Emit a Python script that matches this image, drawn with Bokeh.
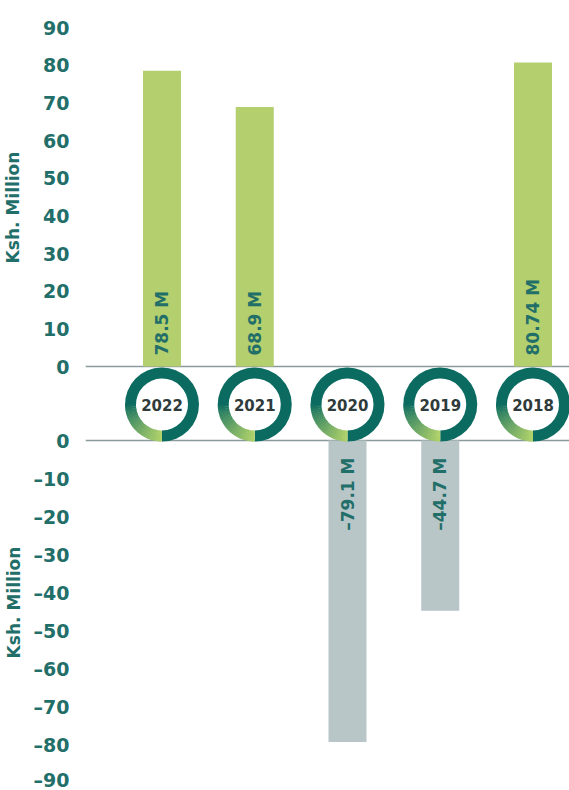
import math
from bokeh.plotting import figure
from bokeh.layouts import column, row
from bokeh.models import Range1d, Span, FixedTicker, ColumnDataSource, CustomJSTickFormatter
from bokeh.embed import file_html
from bokeh.resources import INLINE
from bokeh.core.properties import value

# ---- data ----
years = ["2022", "2021", "2020", "2019", "2018"]
values = [78.5, 68.9, -79.1, -44.7, 80.74]
value_labels = ["78.5 M", "68.9 M", "\u201379.1 M", "\u201344.7 M", "80.74 M"]
top_ticks = [0, 10, 20, 30, 40, 50, 60, 70, 80, 90]
bottom_ticks = [0, -10, -20, -30, -40, -50, -60, -70, -80, -90]
axis_title = "Ksh. Million"

# ---- style ----
FONT = "DejaVu Sans"
TEAL_TXT = "#226e69"
GREEN = "#b3cf6e"
GREY = "#b8c6c8"
RING = "#0b6b61"
RING_LIGHT = "#b2d36a"
LINE = "#8a9a9a"
YEAR_TXT = "#2f3b3b"

W = 569
H = 790
LEFT = 85
AX_FRAME = 6
TOP_H = 414
BOT_H = H - TOP_H

# geometry (page pixels)
unit = 92.75
x_start = -(161.5 - LEFT) / unit
x_end = (len(years) - 1) + (W - 532.5) / unit

s1 = (366 - 27) / 90.0          # px per unit, top panel
s2 = (783 - 440) / 90.0         # px per unit, bottom panel

main_end = 90 + 27 / s1
main_start = -(H - 366) / s1
neg_end = 440 / s2
neg_start = -90 - (H - 783) / s2
ring_y = -(404 - 366) / s1

ta_end = main_end
ta_start = -(TOP_H - 366) / s1
ba_end = (440 - TOP_H) / s2
ba_start = neg_start

xs = list(range(len(years)))
pos = dict(x=[xs[i] for i, v in enumerate(values) if v > 0],
           v=[v for v in values if v > 0],
           lbl=[value_labels[i] for i, v in enumerate(values) if v > 0])
neg = dict(x=[xs[i] for i, v in enumerate(values) if v < 0],
           v=[v for v in values if v < 0],
           lbl=[value_labels[i] for i, v in enumerate(values) if v < 0])


def axis_fig(h, y0, y1, ticks, bounds, label_standoff, neg_fmt=False):
    p = figure(width=LEFT, height=h, x_range=Range1d(0, 1),
               y_range=Range1d(y0, y1), output_backend="svg",
               toolbar_location=None, x_axis_location=None,
               min_border_left=LEFT - AX_FRAME, min_border_right=0,
               min_border_top=0, min_border_bottom=0)
    p.outline_line_color = None
    p.xgrid.visible = False
    p.ygrid.visible = False
    ax = p.yaxis[0]
    ax.ticker = FixedTicker(ticks=ticks)
    ax.bounds = bounds
    if neg_fmt:
        ax.formatter = CustomJSTickFormatter(
            code="return tick < 0 ? '\\u2013' + Math.abs(tick) : String(tick);")
    ax.axis_line_color = None
    ax.major_tick_line_color = None
    ax.minor_tick_line_color = None
    ax.major_label_standoff = 4
    ax.major_label_text_font = FONT
    ax.major_label_text_font_style = "bold"
    ax.major_label_text_font_size = "19px"
    ax.major_label_text_color = TEAL_TXT
    ax.axis_label = axis_title
    ax.axis_label_text_font = FONT
    ax.axis_label_text_font_style = "bold"
    ax.axis_label_text_font_size = "17px"
    ax.axis_label_text_color = TEAL_TXT
    ax.axis_label_standoff = label_standoff
    p.scatter(x=[0.5], y=[y0], size=0, alpha=0)
    return p


top_ax = axis_fig(TOP_H, ta_start, ta_end, top_ticks, (-8, 90), 17)
bot_ax = axis_fig(BOT_H, ba_start, ba_end, bottom_ticks, (-90, 0), 7, True)

# ---- main plot ----
p = figure(width=W - LEFT, height=H, x_range=Range1d(x_start, x_end),
           y_range=Range1d(main_start, main_end),
           output_backend="svg", toolbar_location=None,
           x_axis_location=None, y_axis_location=None,
           min_border_left=0, min_border_right=0,
           min_border_top=0, min_border_bottom=0)
p.extra_y_ranges = {"neg": Range1d(neg_start, neg_end)}
p.outline_line_color = None
p.xgrid.visible = False
p.ygrid.visible = False

p.add_layout(Span(location=0, dimension="width", line_color=LINE,
                  line_width=1.5, level="underlay"))
p.add_layout(Span(location=0, dimension="width", line_color=LINE,
                  line_width=1.5, level="underlay", y_range_name="neg"))

src_p = ColumnDataSource(pos)
p.vbar(x="x", top="v", bottom=0, width=0.41, source=src_p,
       fill_color=GREEN, line_color=None)
p.text(x="x", y=0, text="lbl", source=src_p, angle=math.pi / 2,
       text_align="left", text_baseline="middle", y_offset=-11,
       text_font=value(FONT), text_font_style="bold",
       text_font_size="17px", text_color=TEAL_TXT)

src_n = ColumnDataSource(neg)
p.vbar(x="x", top=0, bottom="v", width=0.41, source=src_n,
       fill_color=GREY, line_color=None, y_range_name="neg")
p.text(x="x", y=0, text="lbl", source=src_n, angle=math.pi / 2,
       text_align="right", text_baseline="middle", y_offset=17,
       text_font=value(FONT), text_font_style="bold",
       text_font_size="17px", text_color=TEAL_TXT, y_range_name="neg")

# year rings
ys = [ring_y] * len(xs)
p.annular_wedge(x=xs, y=ys, inner_radius=26, outer_radius=37,
                inner_radius_units="screen", outer_radius_units="screen",
                start_angle=-math.pi / 2, end_angle=math.pi + 0.02,
                fill_color=RING, line_color=None)
n = 24
c0 = tuple(int(RING[i:i + 2], 16) for i in (1, 3, 5))
c1 = tuple(int(RING_LIGHT[i:i + 2], 16) for i in (1, 3, 5))
for k in range(n):
    a0 = math.pi + (math.pi / 2) * k / n
    a1 = min(math.pi + (math.pi / 2) * (k + 1) / n + 0.015, 1.5 * math.pi)
    t = ((k + 0.5) / n) ** 0.8
    col = "#%02x%02x%02x" % tuple(int(c0[j] + (c1[j] - c0[j]) * t) for j in range(3))
    p.annular_wedge(x=xs, y=ys, inner_radius=26, outer_radius=37,
                    inner_radius_units="screen", outer_radius_units="screen",
                    start_angle=a0, end_angle=a1,
                    fill_color=col, line_color=None)
p.text(x=xs, y=ys, text=years,
       text_align="center", text_baseline="middle",
       text_font=value(FONT), text_font_style="bold",
       text_font_size="15px", text_color=YEAR_TXT)

layout = row(column(top_ax, bot_ax, spacing=0), p, spacing=0)
open("out.html", "w").write(file_html(layout, INLINE))
